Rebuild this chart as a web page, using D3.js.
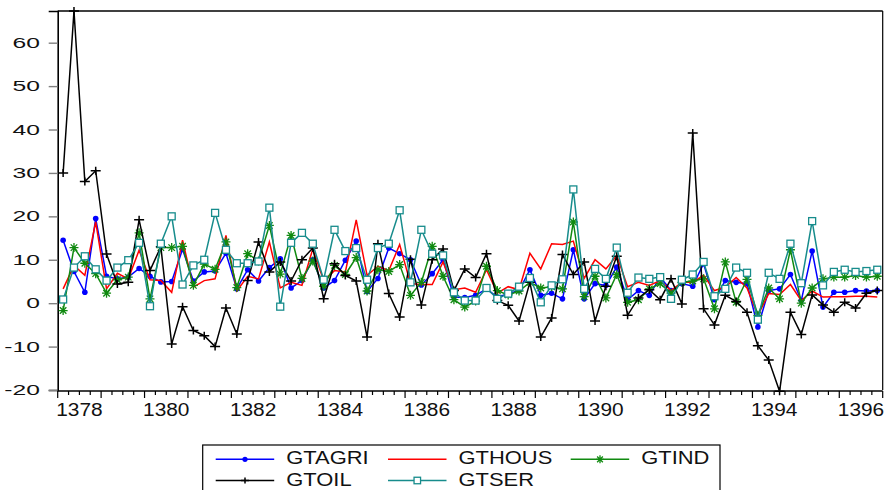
<!DOCTYPE html>
<html>
<head>
<meta charset="utf-8">
<script src="https://cdn.jsdelivr.net/npm/d3@7"></script>
<style>
  html, body { margin: 0; padding: 0; background: #fff; }
  svg { display: block; font-family: "Liberation Sans", Arial, sans-serif; }
</style>
</head>
<body>
<svg id="chart" width="886" height="490"></svg>
<script>
// quarterly periods, 1378Q1 .. 1396Q4
const years = [1378, 1379, 1380, 1381, 1382, 1383, 1384, 1385, 1386, 1387,
  1388, 1389, 1390, 1391, 1392, 1393, 1394, 1395, 1396]
const quarters = ['Q1', 'Q2', 'Q3', 'Q4']
const yearLabels = [1378, 1380, 1382, 1384, 1386, 1388, 1390, 1392, 1394, 1396]
const yTicks = [-20, -10, 0, 10, 20, 30, 40, 50, 60]

const gtagri = [14.5, 7.3, 2.5, 19.5, 6.2, 5.6, 6.0, 8.0, 6.2, 4.9, 5.0, 12.4,
  5.1, 7.2, 7.4, 11.5, 3.3, 7.7, 5.1, 8.2, 10.2, 3.5, 5.2, 10.0,
  3.5, 5.2, 9.9, 14.3, 2.7, 5.7, 12.7, 11.4, 10.0, 4.2, 6.8, 10.0,
  1.4, 1.3, 1.8, 3.3, 1.4, 2.2, 2.9, 7.7, 1.8, 2.3, 1.0, 12.3,
  1.0, 4.5, 4.1, 8.3, 0.8, 2.9, 1.8, 6.0, 2.9, 4.5, 3.9, 9.1,
  0.8, 5.2, 4.8, 4.5, -5.5, 2.9, 3.3, 6.6, 0.6, 12.0, -0.9, 2.5,
  2.5, 2.9, 2.8, 2.9]
const gthous = [3.3, 8.7, 6.4, 18.7, 3.3, 6.9, 5.6, 12.2, 5.4, 5.2, 2.5, 14.5,
  3.7, 5.2, 5.6, 15.6, 2.8, 6.2, 5.6, 14.1, 3.5, 4.8, 4.1, 12.5,
  5.2, 7.5, 7.2, 19.2, 6.4, 8.5, 7.5, 13.5, 4.5, 4.3, 4.3, 9.5,
  3.1, 3.5, 2.5, 7.7, 2.3, 3.8, 3.1, 11.5, 7.9, 13.7, 13.5, 14.3,
  5.7, 10.0, 7.9, 11.0, 3.8, 4.8, 4.1, 5.2, 2.9, 4.8, 4.8, 6.4,
  2.9, 3.7, 5.9, 3.5, -2.8, 2.2, 2.0, 4.3, 0.6, 2.8, 1.4, 1.5,
  1.5, 1.6, 1.6, 1.4]
const gtind = [-1.7, 12.8, 9.2, 6.8, 2.3, 5.4, 6.0, 16.2, 1.0, 12.8, 12.8, 13.1,
  4.1, 9.0, 7.8, 14.1, 3.6, 11.4, 9.7, 17.9, 6.7, 15.6, 5.7, 9.7,
  3.9, 8.7, 6.6, 10.5, 2.8, 7.7, 7.3, 8.9, 1.8, 4.8, 13.1, 6.2,
  0.8, -0.9, 0.5, 8.5, 2.9, 1.9, 2.8, 4.8, 3.5, 3.8, 3.3, 18.7,
  1.5, 6.2, 1.2, 6.6, 0.2, 0.8, 3.3, 4.5, 2.3, 4.8, 5.1, 5.6,
  -1.3, 9.5, 0.2, 5.5, -2.8, 3.5, 1.0, 12.3, 0.0, 3.5, 5.6, 6.0,
  6.0, 6.4, 6.0, 6.2]
const gtoil = [30.0, 67.3, 28.0, 30.5, 11.3, 4.4, 4.8, 19.2, 7.5, 13.0, -9.4, -0.8,
  -6.3, -7.5, -10.0, -1.1, -7.1, 5.2, 14.1, 7.2, 9.5, 5.1, 10.0, 12.7,
  1.0, 9.1, 6.4, 5.1, -7.8, 13.7, 2.2, -3.2, 10.1, -0.4, 10.0, 12.5,
  2.9, 7.9, 5.9, 11.4, 0.6, -0.5, -4.1, 4.8, -7.8, -3.4, 11.2, 6.6,
  9.5, -4.1, 3.9, 10.8, -2.8, 1.2, 3.1, 0.8, 5.6, -0.2, 39.2, -1.3,
  -5.0, 1.8, 0.4, -2.1, -9.8, -13.1, -20.3, -2.1, -7.2, 1.9, -0.4, -2.1,
  0.2, -1.1, 2.3, 2.9]
const gtser = [0.85, 8.2, 10.8, 7.8, 5.2, 8.2, 9.9, 13.9, -0.7, 13.7, 20.0, 4.3,
  8.7, 10.0, 20.8, 12.3, 9.2, 9.2, 9.6, 22.0, -0.8, 13.9, 16.2, 13.7,
  5.4, 16.9, 12.0, 12.7, 5.4, 12.7, 13.7, 21.4, 4.8, 16.9, 11.4, 11.0,
  2.5, 0.6, 0.6, 3.5, 1.0, 2.2, 3.8, 5.8, 0.2, 4.1, 5.5, 26.2,
  3.3, 7.9, 5.6, 12.8, 2.4, 5.9, 5.6, 6.0, 1.0, 5.4, 6.6, 9.5,
  1.6, 3.3, 8.2, 7.0, -3.8, 7.0, 5.6, 13.7, 4.6, 18.9, 4.1, 7.2,
  7.7, 7.2, 7.4, 7.7]

const periods = years.flatMap(y => quarters.map(q => `${y}${q}`))

const series = [
  { name: 'GTAGRI', values: gtagri, color: '#0000ff', marker: 'dot' },
  { name: 'GTHOUS', values: gthous, color: '#ff0000', marker: 'none' },
  { name: 'GTIND', values: gtind, color: '#108a10', marker: 'star' },
  { name: 'GTOIL', values: gtoil, color: '#000000', marker: 'plus' },
  { name: 'GTSER', values: gtser, color: '#178c8c', marker: 'square' }
]

const svg = d3.select('#chart')
const plotLeft = 57.7, plotRight = 882.7, plotTop = 11, plotBottom = 390

const xScale = d3.scaleBand().domain(periods).range([plotLeft, plotRight])
const xPos = p => xScale(p) + xScale.bandwidth() / 2
const yScale = d3.scaleLinear().domain([-20, 67.3]).range([plotBottom, plotTop])

// frame
svg.append('line').attr('x1', plotLeft).attr('x2', plotRight).attr('y1', plotTop).attr('y2', plotTop)
  .attr('stroke', '#000').attr('stroke-width', 1.6)
svg.append('line').attr('x1', plotRight).attr('x2', plotRight).attr('y1', plotTop).attr('y2', plotBottom)
  .attr('stroke', '#000').attr('stroke-width', 1.2)

// y axis
const yAxis = svg.append('g')
  .attr('transform', `translate(${plotLeft},0)`)
  .call(d3.axisLeft(yScale).tickValues(yTicks).tickSize(9).tickFormat(''))
yAxis.select('.domain').attr('stroke', '#000').attr('stroke-width', 1.6)
yAxis.selectAll('.tick line').attr('stroke', '#808080').attr('stroke-width', 1.4)

svg.append('g').selectAll('text')
  .data(yTicks)
  .enter()
    .append('text')
    .attr('transform', d => `translate(40,${yScale(d) + 5}) scale(1.7,1)`)
    .attr('text-anchor', 'end')
    .style('font-size', '14.5px')
    .attr('fill', '#111')
    .text(d => d)

// x axis: quarter ticks, longer ticks at year starts
const bounds = periods.map(p => xScale(p)).concat([plotRight])
svg.append('line').attr('x1', plotLeft).attr('x2', plotRight).attr('y1', plotBottom + 1).attr('y2', plotBottom + 1)
  .attr('stroke', '#000').attr('stroke-width', 1.6)
svg.append('g').selectAll('line')
  .data(bounds)
  .enter()
    .append('line')
    .attr('x1', d => d).attr('x2', d => d)
    .attr('y1', plotBottom + 1)
    .attr('y2', (d, i) => plotBottom + 1 + (i % 4 === 0 ? 7 : 4))
    .attr('stroke', '#000').attr('stroke-width', 1.2)

svg.append('g').selectAll('text')
  .data(yearLabels)
  .enter()
    .append('text')
    .attr('transform', d => {
      const cx = (xScale(`${d}Q1`) + xScale(`${d}Q4`) + xScale.bandwidth()) / 2
      return `translate(${cx},416) scale(1.18,1)`
    })
    .attr('text-anchor', 'middle')
    .style('font-size', '17.7px')
    .attr('fill', '#111')
    .text(d => d)

// markers
const drawMarker = (g, type, color, x, y, small) => {
  if (type === 'dot') {
    g.append('circle').attr('cx', x).attr('cy', y).attr('r', small ? 2.6 : 2.8).attr('fill', color)
  } else if (type === 'square') {
    const s = small ? 6.5 : 7
    g.append('rect').attr('x', x - s / 2).attr('y', y - s / 2).attr('width', s).attr('height', s)
      .attr('fill', '#fff').attr('stroke', color).attr('stroke-width', 1.3)
  } else if (type === 'plus') {
    const h = small ? 4 : 5
    g.append('path').attr('d', `M${x - h},${y}H${x + h}M${x},${y - h + 1}V${y + h - 1}`)
      .attr('stroke', color).attr('stroke-width', 1.5)
  } else if (type === 'star') {
    const h = small ? 4 : 4.5
    const d = h * 0.72
    g.append('path')
      .attr('d', `M${x - h},${y}H${x + h}M${x},${y - h}V${y + h}M${x - d},${y - d}L${x + d},${y + d}M${x - d},${y + d}L${x + d},${y - d}`)
      .attr('stroke', color).attr('stroke-width', 1.3)
  }
}

const line = d3.line().x((d, i) => xPos(periods[i])).y(d => yScale(d))

series.forEach(s => {
  const g = svg.append('g')
  g.append('path')
    .attr('d', line(s.values))
    .attr('fill', 'none')
    .attr('stroke', s.color)
    .attr('stroke-width', 1.5)
  if (s.marker !== 'none') {
    s.values.forEach((v, i) => drawMarker(g, s.marker, s.color, xPos(periods[i]), yScale(v), false))
  }
})

// legend
const legend = svg.append('g')
legend.append('rect')
  .attr('x', 202.7).attr('y', 445).attr('width', 517.3).attr('height', 60)
  .attr('fill', '#fff').attr('stroke', '#000').attr('stroke-width', 1.2)

const legendPos = [
  { x: 215.7, y: 459.3 }, { x: 388, y: 459.3 }, { x: 570.7, y: 459.3 },
  { x: 215.7, y: 480.5 }, { x: 388, y: 480.5 }
]
series.forEach((s, i) => {
  const p = legendPos[i]
  legend.append('line')
    .attr('x1', p.x).attr('x2', p.x + 58.5).attr('y1', p.y).attr('y2', p.y)
    .attr('stroke', s.color).attr('stroke-width', 1.5)
  drawMarker(legend, s.marker, s.color, p.x + 29.3, p.y, true)
  legend.append('text')
    .attr('transform', `translate(${p.x + 70.5},${p.y + 5}) scale(1.24,1)`)
    .style('font-size', '17.7px')
    .attr('fill', '#111')
    .text(s.name)
})
</script>
</body>
</html>
